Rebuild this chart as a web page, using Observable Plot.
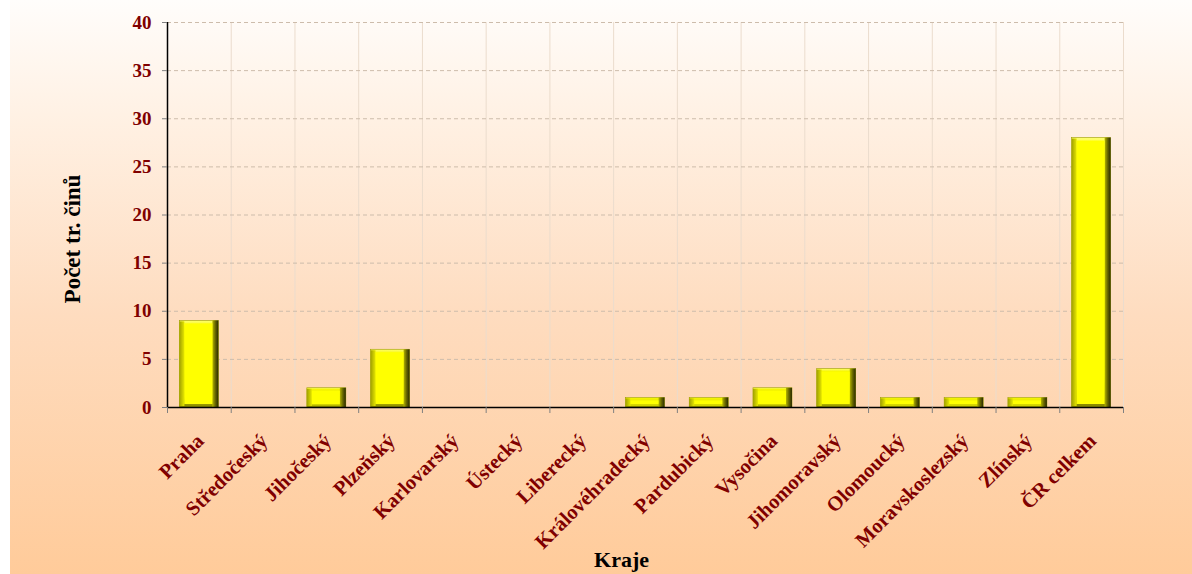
<!DOCTYPE html>
<html>
<head>
<meta charset="utf-8">
<script src="https://cdn.jsdelivr.net/npm/d3@7"></script>
<script src="https://cdn.jsdelivr.net/npm/@observablehq/plot@0.6"></script>
<style>
  html, body { margin: 0; padding: 0; background: #fff; }
  #chart {
    position: relative;
    width: 1192px; height: 574px; overflow: hidden;
    background:
      linear-gradient(to right, #ffffff 0px, #ffffff 10px, rgba(255,255,255,0) 10px),
      linear-gradient(to bottom, #fffdfb 0%, #fff1e4 20%, #fedcbf 55%, #ffcb9a 100%);
  }
  #chart svg { display: block; background: transparent; }
</style>
</head>
<body>
<div id="chart"></div>
<script>
const categories = ["Praha", "Středočeský", "Jihočeský", "Plzeňský", "Karlovarský", "Ústecký", "Liberecký", "Královéhradecký", "Pardubický", "Vysočina", "Jihomoravský", "Olomoucký", "Moravskoslezský", "Zlínský", "ČR celkem"];
const values = [9, 0, 2, 6, 0, 0, 0, 1, 1, 2, 4, 1, 1, 1, 28];
const yTicks = [0, 5, 10, 15, 20, 25, 30, 35, 40];
const yTitle = "Počet tr. činů";
const xTitle = "Kraje";

const data = categories.map((c, i) => ({kraj: c, pocet: values[i]}));
const nonzero = data.filter(d => d.pocet > 0);

const W = 1192, H = 574;
const mL = 167, mR = 69, mT = 22, mB = 167;
const step = (W - mL - mR) / categories.length;
const barW = 39;
const side = (step - barW) / 2;
const bev = 5;
const red = "#800000";
const font = "Liberation Serif, Times New Roman, serif";

const chart = Plot.plot({
  width: W, height: H,
  marginLeft: mL, marginRight: mR, marginTop: mT, marginBottom: mB,
  style: {background: "transparent", fontFamily: font},
  x: {type: "band", domain: categories, padding: 0, round: false, axis: null},
  y: {domain: [0, 40], ticks: yTicks, axis: null},
  marks: [
    // vertical gridlines at category boundaries
    Plot.ruleX(categories, {x: d => d, dx: -step / 2, stroke: "#ebdccd", strokeWidth: 1}),
    Plot.ruleX([categories[categories.length - 1]], {x: d => d, dx: step / 2, stroke: "#ebdccd", strokeWidth: 1}),
    // horizontal dashed gridlines
    Plot.ruleY(yTicks.slice(1), {y: d => d, stroke: "#cdbcab", strokeDasharray: "4,3", strokeWidth: 1}),
    // bars: outer body with vertical shading
    Plot.barY(nonzero, {x: "kraj", y: "pocet", insetLeft: side, insetRight: side, fill: "url(#gBody)", stroke: "#9a9a00", strokeWidth: 0.6}),
    // left bevel
    Plot.barY(nonzero, {x: "kraj", y: "pocet", insetLeft: side, insetRight: side + barW - bev, insetTop: 1, insetBottom: 1, fill: "url(#gLeft)"}),
    // right bevel
    Plot.barY(nonzero, {x: "kraj", y: "pocet", insetLeft: side + barW - bev - 1, insetRight: side, fill: "url(#gRight)"}),
    // face
    Plot.barY(nonzero, {x: "kraj", y: "pocet", insetLeft: side + bev, insetRight: side + bev + 1, insetTop: 3, insetBottom: 3, fill: "#ffff00"}),
    // axes lines
    Plot.ruleY([0], {stroke: "#000", strokeWidth: 1.5}),
    Plot.ruleX([categories[0]], {x: d => d, dx: -step / 2, stroke: "#000", strokeWidth: 1.5}),
    // y ticks
    Plot.axisY({ticks: yTicks, tickSize: 5, tickPadding: 11, fontSize: 19, fontWeight: "bold", stroke: "#808080", label: null, fill: red}),
    // x ticks at band boundaries
    Plot.axisX({tickSize: 6, tickFormat: () => "", dx: -step / 2, label: null, stroke: "#808080"}),
    Plot.axisX({ticks: [categories[categories.length - 1]], tickSize: 6, tickFormat: () => "", dx: step / 2, label: null, stroke: "#808080"}),
    // x tick labels, rotated
    Plot.text(categories, {x: d => d, y: 0, dx: 1, dy: 30, rotate: -45, textAnchor: "end", lineAnchor: "middle", fontSize: 20.5, fontWeight: "bold", fill: red}),
    // axis titles
    Plot.text([yTitle], {frameAnchor: "left", dx: -95, dy: 24, rotate: -90, textAnchor: "middle", lineAnchor: "middle", fontSize: 23, fontWeight: "bold", fill: "#000"}),
    Plot.text([xTitle], {frameAnchor: "bottom", dx: -24, dy: 152, textAnchor: "middle", lineAnchor: "middle", fontSize: 22, fontWeight: "bold", fill: "#000"})
  ]
});

const defs = `
<defs>
  <linearGradient id="gBody" x1="0" y1="0" x2="0" y2="1">
    <stop offset="0" stop-color="#ffff70"/>
    <stop offset="0.08" stop-color="#f5f500"/>
    <stop offset="0.88" stop-color="#d0d000"/>
    <stop offset="1" stop-color="#858500"/>
  </linearGradient>
  <linearGradient id="gLeft" x1="0" y1="0" x2="1" y2="0">
    <stop offset="0" stop-color="#a0a000"/>
    <stop offset="1" stop-color="#e6e600"/>
  </linearGradient>
  <linearGradient id="gRight" x1="0" y1="0" x2="1" y2="0">
    <stop offset="0" stop-color="#b5b500"/>
    <stop offset="0.5" stop-color="#666600"/>
    <stop offset="1" stop-color="#2a2a00"/>
  </linearGradient>
</defs>`;
chart.insertAdjacentHTML("afterbegin", defs);
document.getElementById("chart").appendChild(chart);
</script>
</body>
</html>
